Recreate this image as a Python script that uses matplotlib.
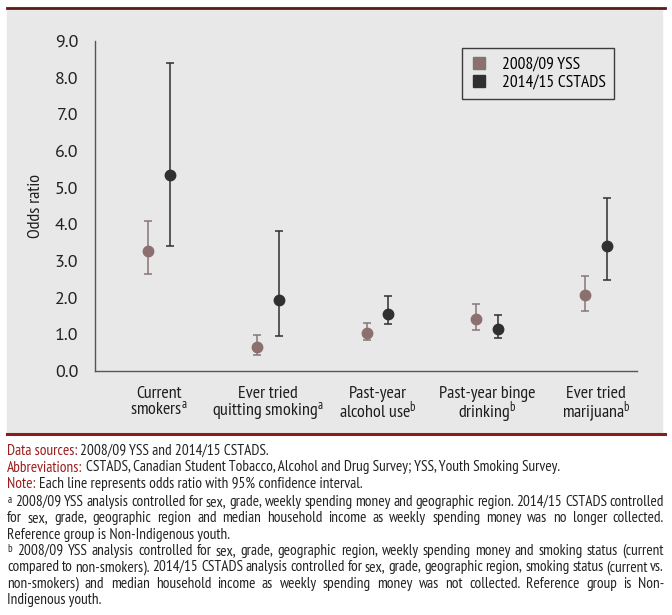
import matplotlib
matplotlib.use("Agg")
import matplotlib.pyplot as plt
import numpy as np
from matplotlib.patches import Rectangle
from matplotlib.lines import Line2D

plt.rcParams['font.family'] = ['PT Sans Narrow', 'DejaVu Sans']
plt.rcParams['mathtext.fontset'] = 'custom'
plt.rcParams['mathtext.rm'] = 'PT Sans Narrow'
plt.rcParams['mathtext.it'] = 'PT Sans Narrow'

# data
categories = ["Current\nsmokers$^{\\mathrm{a}}$", "Ever tried\nquitting smoking$^{\\mathrm{a}}$",
              "Past-year\nalcohol use$^{\\mathrm{b}}$", "Past-year binge\ndrinking$^{\\mathrm{b}}$",
              "Ever tried\nmarijuana$^{\\mathrm{b}}$"]
yss_or = [3.28, 0.65, 1.04, 1.41, 2.06]
yss_lo = [2.65, 0.45, 0.84, 1.11, 1.65]
yss_hi = [4.10, 0.97, 1.30, 1.84, 2.58]
cst_or = [5.34, 1.93, 1.56, 1.14, 3.41]
cst_lo = [3.40, 0.96, 1.28, 0.89, 2.47]
cst_hi = [8.41, 3.83, 2.04, 1.52, 4.73]
yticks = [0, 1, 2, 3, 4, 5, 6, 7, 8, 9]

yss_col = '#8c7070'
cst_col = '#303030'
W, H = 672, 615

fig = plt.figure(figsize=(6.72, 6.15), dpi=100)

# grey panel with red rules
fig.add_artist(Rectangle((7 / W, 1 - 434 / H), 655 / W, 427 / H,
                         transform=fig.transFigure, color='#e8e8e8', zorder=-5))
fig.add_artist(Line2D([7 / W, 665 / W], [1 - 7.5 / H] * 2, color='#5e1a14', lw=2, zorder=-4))
fig.add_artist(Line2D([7 / W, 665 / W], [1 - 434 / H] * 2, color='#8e1b1b', lw=2.2, zorder=-4))

ax = fig.add_axes([95 / W, 1 - 371 / H, 542 / W, 330 / H])
ax.set_facecolor('none')
x = np.arange(len(categories))
off = 0.1
ax.errorbar(x - off, yss_or,
            yerr=[np.subtract(yss_or, yss_lo), np.subtract(yss_hi, yss_or)],
            fmt='o', color=yss_col, ecolor='#8a7676', elinewidth=1.1, capsize=3.2,
            capthick=1.1, markersize=7.5, label='2008/09 YSS')
ax.errorbar(x + off, cst_or,
            yerr=[np.subtract(cst_or, cst_lo), np.subtract(cst_hi, cst_or)],
            fmt='o', color=cst_col, ecolor=cst_col, elinewidth=1.1, capsize=3.2,
            capthick=1.1, markersize=7.5, label='2014/15 CSTADS')

ax.set_xlim(-0.586, 4.375)
ax.set_ylim(0, 9)
ax.set_yticks(yticks)
ax.set_yticklabels([f'{v:.1f}' for v in yticks], fontsize=13, color='#222222',
                   family=['PT Sans', 'DejaVu Sans'])
ax.set_xticks(x)
ax.set_xticklabels(categories, fontsize=13, color='#1e1e1e', linespacing=0.85)
ax.tick_params(length=0)
ax.tick_params(axis='y', pad=12)
ax.tick_params(axis='x', pad=11)
for s in ['top', 'right']:
    ax.spines[s].set_visible(False)
for s in ['left', 'bottom']:
    ax.spines[s].set_color('#555555')
    ax.spines[s].set_linewidth(1)
ax.set_ylabel('Odds ratio', fontsize=13, color='#1e1e1e', labelpad=8)

# legend with square handles
handles = [Line2D([], [], marker='s', ls='none', color=yss_col, markersize=8),
           Line2D([], [], marker='s', ls='none', color=cst_col, markersize=8)]
leg = ax.legend(handles, ['2008/09 YSS', '2014/15 CSTADS'], loc='upper left',
                bbox_to_anchor=((462 - 95) / 542, (371 - 48) / 330),
                frameon=True, fancybox=False, fontsize=12.5, handlelength=1,
                handletextpad=0.8, borderpad=0.5, labelspacing=0.1,
                borderaxespad=0)
leg.get_frame().set_edgecolor('#111111')
leg.get_frame().set_linewidth(1)
leg.get_frame().set_facecolor('#e8e8e8')

# footer
red = '#9b1c1c'
txt = '#222222'
fs = 11
renderer = fig.canvas.get_renderer()


def label_line(ypx, head, rest):
    t = fig.text(7 / W, 1 - ypx / H, head, color=red, fontsize=fs, va='center')
    bb = t.get_window_extent(renderer)
    fig.text((bb.x1 + 3) / W, 1 - ypx / H, rest, color=txt,
             fontsize=fs, va='center')


label_line(451, 'Data sources:', '2008/09 YSS and 2014/15 CSTADS.')
label_line(467.5, 'Abbreviations:', 'CSTADS, Canadian Student Tobacco, Alcohol and Drug Survey; YSS, Youth Smoking Survey.')
label_line(484, 'Note:', 'Each line represents odds ratio with 95% confidence interval.')


def justified(lines, y0, step=16.3, left=7, right=664):
    for i, line in enumerate(lines):
        ypx = y0 + i * step
        words = line.split(' ')
        if i == len(lines) - 1:
            fig.text(left / W, 1 - ypx / H, line, color=txt, fontsize=fs, va='center')
            continue
        arts = [fig.text(0, 1 - ypx / H, w, color=txt, fontsize=fs, va='center')
                for w in words]
        widths = [a.get_window_extent(renderer).width for a in arts]
        gap = (right - left - sum(widths)) / (len(words) - 1)
        xpos = left
        for a, w in zip(arts, widths):
            a.set_x(xpos / W)
            xpos += w + gap


justified(['$^{\\mathrm{a}}$ 2008/09 YSS analysis controlled for sex, grade, weekly spending money and geographic region. 2014/15 CSTADS controlled',
           'for sex, grade, geographic region and median household income as weekly spending money was no longer collected.',
           'Reference group is Non-Indigenous youth.'], 502)
justified(['$^{\\mathrm{b}}$ 2008/09 YSS analysis controlled for sex, grade, geographic region, weekly spending money and smoking status (current',
           'compared to non-smokers). 2014/15 CSTADS analysis controlled for sex, grade, geographic region, smoking status (current vs.',
           'non-smokers) and median household income as weekly spending money was not collected. Reference group is Non-',
           'Indigenous youth.'], 551)

fig.savefig('out.png', dpi=100)
